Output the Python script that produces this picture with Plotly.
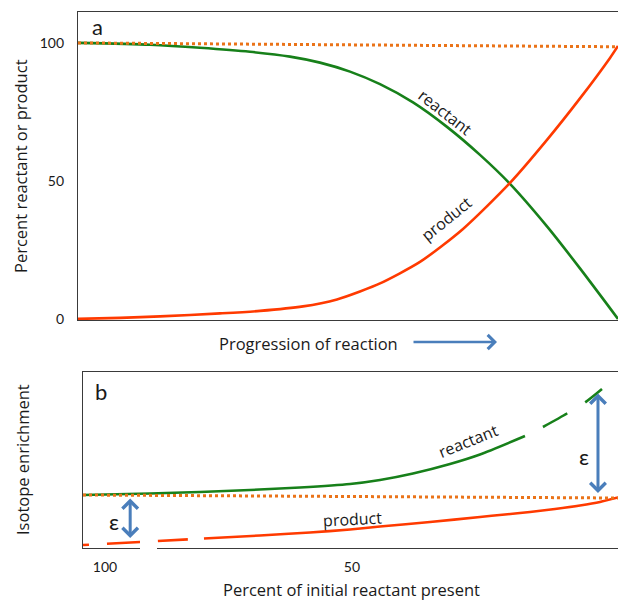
import plotly.graph_objects as go

# ---------------- data ----------------
# Panel a: progression of reaction (0-100 %), percent reactant / product
prog_reactant = [0, 13.33, 22.59, 31.85, 39.26, 44.81, 50.37, 55.93, 62.04, 68.33, 74.44, 80.0, 86.85, 92.96, 100]
pct_reactant = [100, 99.31, 98.22, 96.78, 95.04, 92.86, 89.60, 85.04, 78.44, 69.57, 59.42, 48.91, 33.51, 18.30, 0]
prog_product = [0, 7.78, 15.19, 26.30, 33.70, 41.67, 47.96, 52.22, 55.93, 63.33, 71.30, 80.0, 86.85, 92.96, 98.52, 100]
pct_product = [0, 0.36, 0.91, 2.0, 2.9, 4.53, 7.07, 9.96, 12.86, 20.65, 32.61, 49.28, 64.86, 79.89, 94.57, 98.91]
prog_initial = [0, 100]
pct_initial = [100, 98.6]
y_ticks_a = [0, 50, 100]

# Panel b: percent of initial reactant present, isotope enrichment (arbitrary units)
rem_react_solid = [104.45, 90.89, 80.77, 70.65, 60.53, 50.40, 44.33, 37.65, 30.16, 24.09, 14.98]
enr_react_solid = [0, 0.15, 0.3, 0.5, 0.75, 1.1, 1.5, 2.15, 3.1, 4.05, 5.9]
rem_react_dash = [11.34, 6.48, 2.83, -0.61]
enr_react_dash = [6.8, 8.15, 9.25, 10.6]
rem_prod_dash = [104.45, 99.8, 92.91, 89.47, 83.40, 79.96]
enr_prod_dash = [-5.0, -4.85, -4.7, -4.6, -4.45, -4.35]
rem_prod_solid = [79.96, 68.62, 58.50, 50.40, 44.33, 34.21, 24.09, 19.03, 13.97, 8.91, 3.85, -0.2, -3.85]
enr_prod_solid = [-4.35, -4.05, -3.75, -3.45, -3.15, -2.7, -2.2, -1.95, -1.7, -1.4, -1.05, -0.7, -0.25]
rem_initial = [104.45, -3.85]
enr_initial = [0, -0.3]
x_ticks_b = [100, 50]

GREEN = "#17801a"
RED = "#ff3a00"
ORANGE = "#ea7318"
BLUE = "#4a7ebb"
AXC = "#3a3a3a"
FONT = "Lato"

fig = go.Figure()
SM = 0.7
# panel a
fig.add_trace(go.Scatter(x=prog_reactant, y=pct_reactant, mode="lines", line=dict(color=GREEN, width=2.6, shape="spline", smoothing=SM), xaxis="x", yaxis="y"))
fig.add_trace(go.Scatter(x=prog_product, y=pct_product, mode="lines", line=dict(color=RED, width=2.6, shape="spline", smoothing=SM), xaxis="x", yaxis="y"))
fig.add_trace(go.Scatter(x=prog_initial, y=pct_initial, mode="lines", line=dict(color=ORANGE, width=3, dash="dot"), xaxis="x", yaxis="y"))

# panel b
fig.add_trace(go.Scatter(x=rem_react_solid, y=enr_react_solid, mode="lines", line=dict(color=GREEN, width=2.6, shape="spline", smoothing=SM), xaxis="x2", yaxis="y2"))
fig.add_trace(go.Scatter(x=rem_react_dash, y=enr_react_dash, mode="lines", line=dict(color=GREEN, width=2.6, shape="spline", smoothing=SM, dash="28px,21px"), xaxis="x2", yaxis="y2"))
fig.add_trace(go.Scatter(x=rem_prod_dash, y=enr_prod_dash, mode="lines", line=dict(color=RED, width=2.6, dash="6px,18px,34px,17px,30px,17px"), xaxis="x2", yaxis="y2"))
fig.add_trace(go.Scatter(x=rem_prod_solid, y=enr_prod_solid, mode="lines", line=dict(color=RED, width=2.6, shape="spline", smoothing=SM), xaxis="x2", yaxis="y2"))
fig.add_trace(go.Scatter(x=rem_initial, y=enr_initial, mode="lines", line=dict(color=ORANGE, width=3, dash="dot"), xaxis="x2", yaxis="y2"))

W, H = 618, 600
ML, MR, MT, MB = 78, 0, 12, 52
PW, PH = W - ML - MR, H - MT - MB


def px(xp):
    return (xp - ML) / PW


def py(yp):
    return (H - MB - yp) / PH


fig.update_layout(
    width=W, height=H,
    margin=dict(l=ML, r=MR, t=MT, b=MB),
    paper_bgcolor="white", plot_bgcolor="white",
    showlegend=False,
    font=dict(family=FONT, color="#1a1a1a", size=14),
    xaxis=dict(domain=[0, 1], range=[0, 100], showgrid=False, zeroline=False, showticklabels=False,
               ticks="", showline=True, linecolor=AXC, linewidth=1.3, mirror=True, anchor="y"),
    yaxis=dict(domain=[py(320), 1], range=[-0.4, 111.2], showgrid=False, zeroline=False,
               tickvals=y_ticks_a, ticks="", ticklabelstandoff=10, tickfont=dict(family=FONT, size=14),
               showline=True, linecolor=AXC, linewidth=1.3, anchor="x"),
    xaxis2=dict(domain=[px(83), 1], range=[104.45, -3.85], showgrid=False, zeroline=False,
                tickvals=x_ticks_b, ticks="", ticklabelstandoff=6, tickfont=dict(family=FONT, size=14),
                showline=True, linecolor=AXC, linewidth=1.3, mirror=True, anchor="y2"),
    yaxis2=dict(domain=[0, py(372)], range=[-5.3, 12.3], showgrid=False, zeroline=False,
                showticklabels=False, ticks="", showline=True, linecolor=AXC, linewidth=1.3, anchor="x2"),
)

TFONT = dict(family="Open Sans", size=16.5, color="#1a1a1a")
LFONT = dict(family="Open Sans", size=16, color="#1a1a1a")
C = dict(xref="paper", yref="paper", showarrow=False, xanchor="center", yanchor="middle")
ann = []
# panel letters
ann.append(dict(text="a", x=px(97), y=py(26), font=dict(family=FONT, size=22), **C))
ann.append(dict(text="b", x=px(101), y=py(392), font=dict(family=FONT, size=22), **C))
# axis titles
ann.append(dict(text="Percent reactant or product", x=px(20), y=py(166), textangle=-90, font=TFONT, **C))
ann.append(dict(text="Isotope enrichment", x=px(22), y=py(460), textangle=-90, font=TFONT, **C))
ann.append(dict(text="Progression of reaction", x=px(308), y=py(343), font=TFONT, **C))
ann.append(dict(text="Percent of initial reactant present", x=px(351), y=py(589), font=TFONT, **C))
# progression arrow
ann.append(dict(text="", x=px(497), y=py(342), xref="paper", yref="paper", showarrow=True, ax=-85, ay=0,
                arrowhead=4, arrowsize=1.1, arrowwidth=2.5, arrowcolor=BLUE))
# curve labels panel a
ann.append(dict(text="reactant", x=px(445), y=py(112), textangle=38, font=LFONT, **C))
ann.append(dict(text="product", x=px(446), y=py(219), textangle=-39, font=LFONT, **C))
# curve labels panel b
ann.append(dict(text="reactant", x=px(468), y=py(441), textangle=-22, font=LFONT, **C))
ann.append(dict(text="product", x=px(352), y=py(519), textangle=-3, font=LFONT, **C))
# epsilon arrows
ann.append(dict(text="", x=94.9, y=-4.3, xref="x2", yref="y2", axref="x2", ayref="y2", ax=94.9, ay=-0.2,
                showarrow=True, arrowside="end+start", arrowhead=4, startarrowhead=4, arrowsize=1.0, startarrowsize=1.0,
                arrowwidth=3, arrowcolor=BLUE))
ann.append(dict(text="", x=0.2, y=0.2, xref="x2", yref="y2", axref="x2", ayref="y2", ax=0.2, ay=10.3,
                showarrow=True, arrowside="end+start", arrowhead=4, startarrowhead=4, arrowsize=1.0, startarrowsize=1.0,
                arrowwidth=3, arrowcolor=BLUE))
ann.append(dict(text="ε", x=px(114), y=py(521), font=dict(family=FONT, size=22), **C))
ann.append(dict(text="ε", x=px(584), y=py(456), font=dict(family=FONT, size=22), **C))
fig.update_layout(annotations=ann)

# small white patch covering the bottom border (as in the original)
fig.add_shape(type="rect", xref="paper", yref="paper", x0=px(140), x1=px(157), y0=py(551), y1=py(539),
              fillcolor="white", line=dict(width=0), layer="above")

fig.write_html("out.html", config={"displayModeBar": False},
               post_script="document.body.style.margin='0px';document.body.style.overflow='hidden';")
